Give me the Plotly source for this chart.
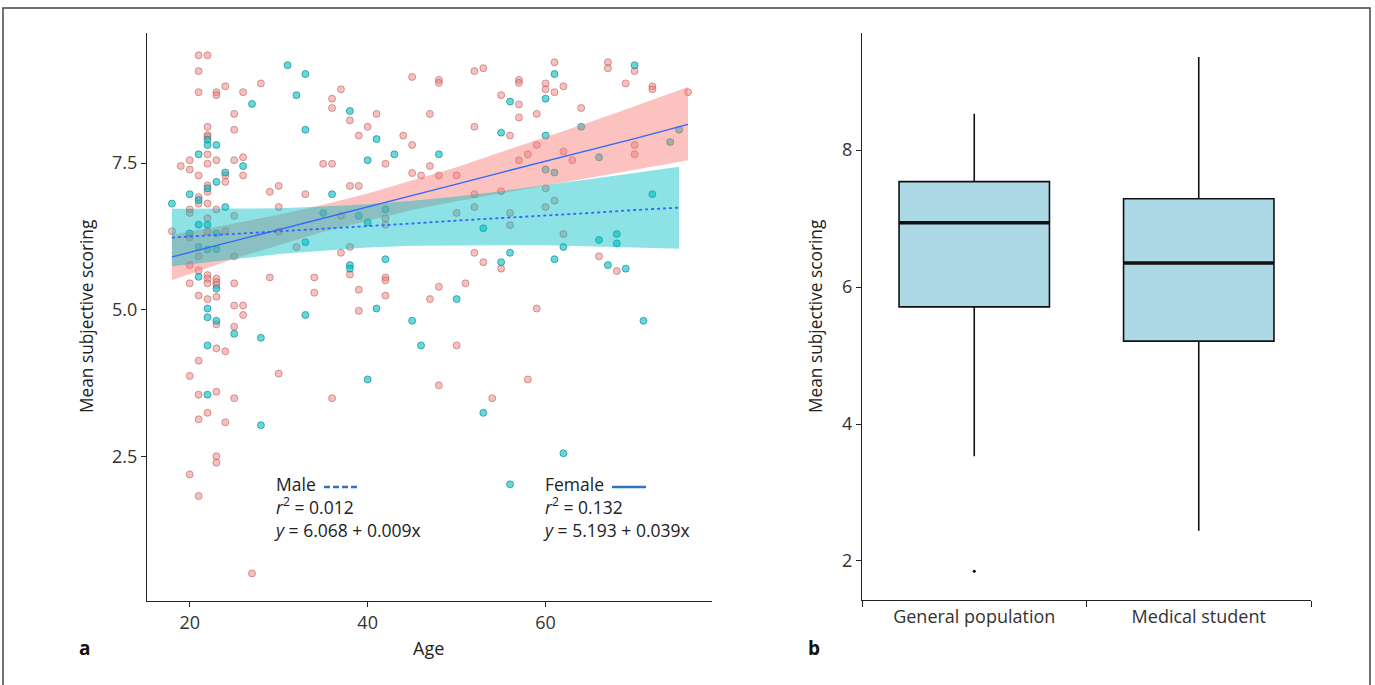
import plotly.graph_objects as go

# ---------------- Data ----------------
female_age = [21, 22, 21, 21, 23, 23, 24, 26, 28, 36, 36, 37, 38, 41, 40, 39, 44, 45, 45, 42, 35, 36,
              22, 22, 22, 25, 25, 22, 20, 20, 19, 21, 22, 23, 25, 26, 26, 24, 24, 22, 22, 21, 21, 22,
              23, 29, 30, 33, 30, 38, 39, 45, 20, 20, 22, 22, 24, 25, 18, 20, 21, 25, 20, 21, 22, 22,
              23, 23, 23, 20, 22, 25, 30, 32, 37, 42, 42, 37, 38, 38, 29, 34, 34, 39, 39, 42, 42, 42,
              21, 22, 23, 25, 26, 26, 23, 25, 23, 24, 21, 20, 30, 21, 23, 25, 36, 21, 22, 24, 23, 23,
              20, 21, 27, 50, 48, 58, 54, 48, 48, 52, 53, 57, 57, 61, 60, 60, 61, 62, 67, 67, 70, 69,
              72, 72, 76, 55, 57, 57, 59, 64, 47, 52, 56, 47, 46, 48, 50, 59, 58, 57, 62, 63, 70, 70,
              60, 60, 61, 55, 52, 52, 50, 56, 56, 62, 52, 53, 55, 66, 68, 51, 48, 47, 59]
female_score = [9.34, 9.34, 9.07, 8.71, 8.71, 8.66, 8.81, 8.71, 8.86, 8.60, 8.44, 8.76, 8.23, 8.34, 8.12,
                7.97, 7.97, 8.97, 7.81, 7.49, 7.49, 7.49, 8.12, 7.98, 7.95, 8.34, 8.07, 7.65, 7.55, 7.39,
                7.45, 7.29, 7.49, 7.55, 7.55, 7.60, 7.29, 7.29, 7.18, 7.12, 7.01, 6.92, 6.81, 6.81, 6.71,
                7.01, 7.11, 6.97, 6.75, 7.11, 7.11, 7.33, 6.71, 6.65, 6.56, 6.33, 6.34, 6.60, 6.34, 6.23,
                5.91, 5.91, 5.76, 5.67, 5.59, 5.53, 5.53, 5.47, 5.42, 5.45, 5.45, 5.45, 6.33, 6.07, 6.60,
                6.56, 6.45, 5.97, 6.07, 5.60, 5.55, 5.55, 5.29, 5.34, 4.98, 5.55, 5.50, 5.24, 5.24, 5.18,
                5.22, 5.07, 5.07, 4.91, 4.75, 4.71, 4.34, 4.29, 4.13, 3.87, 3.91, 3.55, 3.60, 3.49, 3.49,
                3.13, 3.24, 3.08, 2.50, 2.39, 2.19, 1.82, 0.50, 4.39, 3.71, 3.81, 3.49, 8.92, 8.87, 9.07,
                9.12, 8.92, 8.87, 9.22, 8.86, 8.76, 8.71, 8.81, 9.22, 9.12, 9.07, 8.86, 8.81, 8.76, 8.71,
                8.66, 8.50, 8.28, 8.34, 8.44, 8.34, 8.12, 7.97, 7.45, 7.29, 7.29, 7.29, 7.81, 7.65, 7.55,
                7.70, 7.55, 7.81, 7.65, 7.07, 6.75, 6.86, 7.02, 6.97, 6.75, 6.65, 6.65, 6.44, 6.29, 5.97,
                5.81, 5.70, 5.91, 5.66, 5.45, 5.39, 5.18, 5.02]

male_age = [18, 27, 31, 33, 32, 38, 41, 43, 40, 33, 22, 22, 23, 21, 26, 24, 23, 22, 20, 21, 24, 36,
            21, 22, 23, 20, 21, 22, 23, 33, 35, 39, 40, 42, 38, 38, 42, 41, 21, 23, 22, 22, 23, 33,
            45, 25, 28, 46, 22, 40, 22, 28, 53, 62, 56, 61, 60, 70, 56, 55, 60, 48, 64, 66, 74, 75,
            72, 60, 61, 53, 62, 66, 68, 68, 56, 55, 61, 67, 69, 50, 71]
male_score = [6.81, 8.51, 9.17, 9.02, 8.66, 8.39, 7.91, 7.65, 7.55, 8.07, 7.90, 7.81, 7.81, 7.65, 7.45,
              7.34, 7.18, 7.07, 6.97, 6.87, 6.75, 6.97, 6.45, 6.45, 6.30, 6.30, 6.07, 6.03, 6.03, 6.15,
              6.65, 6.60, 6.49, 6.71, 5.76, 5.70, 5.86, 5.02, 5.56, 5.36, 5.02, 4.87, 4.81, 4.91, 4.81,
              4.59, 4.52, 4.39, 4.39, 3.81, 3.55, 3.03, 3.24, 2.55, 2.02, 9.02, 8.60, 9.17, 8.55, 8.02,
              7.97, 7.65, 8.12, 7.60, 7.86, 8.07, 6.97, 7.39, 7.34, 6.39, 6.07, 6.19, 6.29, 6.13, 5.97,
              5.81, 5.86, 5.76, 5.70, 5.18, 4.81]

# fitted lines and 95% confidence ribbons
female_fit_x = [18, 25, 30, 35, 40, 45, 50, 55, 60, 65, 70, 76]
female_fit = [5.90, 6.17, 6.36, 6.56, 6.75, 6.95, 7.14, 7.34, 7.53, 7.73, 7.92, 8.16]
female_lo = [5.50, 5.87, 6.10, 6.33, 6.52, 6.70, 6.85, 6.99, 7.12, 7.25, 7.38, 7.55]
female_hi = [6.28, 6.47, 6.62, 6.79, 6.98, 7.20, 7.43, 7.69, 7.94, 8.20, 8.47, 8.80]

male_fit_x = [18, 25, 30, 35, 40, 45, 50, 55, 60, 65, 70, 75]
male_fit = [6.23, 6.29, 6.34, 6.38, 6.43, 6.47, 6.52, 6.56, 6.61, 6.65, 6.70, 6.74]
male_lo = [5.74, 5.86, 5.95, 6.01, 6.06, 6.09, 6.10, 6.10, 6.10, 6.08, 6.06, 6.04]
male_hi = [6.72, 6.72, 6.73, 6.76, 6.80, 6.86, 6.93, 7.02, 7.12, 7.22, 7.33, 7.44]

legend_labels = ["Male", "Female"]
legend_r2 = ["0.012", "0.132"]
legend_eq = ["6.068 + 0.009x", "5.193 + 0.039x"]

# box plot summary (panel b)
groups = ["General population", "Medical student"]
box_low = [3.53, 2.44]
box_q1 = [5.71, 5.21]
box_median = [6.94, 6.35]
box_q3 = [7.54, 7.29]
box_high = [8.53, 9.36]
outlier_group = ["General population"]
outlier_value = [1.85]

# ---------------- Figure ----------------
W, H = 1375, 685
FONT = "Open Sans"
TXT = "#222222"


def px(x):
    return x / W


def py(y):
    return 1 - y / H


fig = go.Figure()

# points
fig.add_trace(go.Scatter(x=female_age, y=female_score, mode="markers",
                         marker=dict(size=7, color="rgba(240,128,124,0.5)",
                                     line=dict(color="rgba(175,90,90,0.55)", width=1)),
                         showlegend=False, hoverinfo="skip"))
fig.add_trace(go.Scatter(x=male_age, y=male_score, mode="markers",
                         marker=dict(size=7, color="rgba(0,190,196,0.6)",
                                     line=dict(color="rgba(0,125,130,0.6)", width=1)),
                         showlegend=False, hoverinfo="skip"))

# ribbons
fig.add_trace(go.Scatter(x=female_fit_x + female_fit_x[::-1], y=female_hi + female_lo[::-1],
                         fill="toself", fillcolor="rgba(246,120,112,0.45)", mode="lines",
                         line=dict(width=0), showlegend=False, hoverinfo="skip"))
fig.add_trace(go.Scatter(x=male_fit_x + male_fit_x[::-1], y=male_hi + male_lo[::-1],
                         fill="toself", fillcolor="rgba(0,190,196,0.45)", mode="lines",
                         line=dict(width=0), showlegend=False, hoverinfo="skip"))

# fitted lines
fig.add_trace(go.Scatter(x=female_fit_x, y=female_fit, mode="lines",
                         line=dict(color="#3366FF", width=1.3), showlegend=False, hoverinfo="skip"))
fig.add_trace(go.Scatter(x=male_fit_x, y=male_fit, mode="lines",
                         line=dict(color="#3366FF", width=1.8, dash="dot"), showlegend=False,
                         hoverinfo="skip"))

# box plot
fig.add_trace(go.Box(x=groups, q1=box_q1, median=box_median, q3=box_q3,
                     lowerfence=box_low, upperfence=box_high,
                     fillcolor="#ADD8E6", line=dict(color="#111111", width=1.6),
                     width=0.67, whiskerwidth=0, boxpoints=False,
                     xaxis="x2", yaxis="y2", showlegend=False, hoverinfo="skip"))
fig.add_trace(go.Scatter(x=outlier_group, y=outlier_value, mode="markers",
                         marker=dict(size=3, color="black"), xaxis="x2", yaxis="y2",
                         showlegend=False, hoverinfo="skip"))

shapes = []
for i, m in enumerate(box_median):
    shapes.append(dict(type="line", xref="x2", yref="y2", x0=i - 0.335, x1=i + 0.335, y0=m, y1=m,
                       line=dict(color="#111111", width=3.5)))

# outer frame
shapes.append(dict(type="rect", xref="paper", yref="paper", x0=px(3), x1=px(1370), y0=-0.05,
                   y1=py(8), line=dict(color="#444444", width=1.5)))

# legend line samples
shapes.append(dict(type="line", xref="paper", yref="paper", x0=px(324), x1=px(357), y0=py(487),
                   y1=py(487), line=dict(color="#2E75C0", width=2.5, dash="6px,3px")))
shapes.append(dict(type="line", xref="paper", yref="paper", x0=px(612), x1=px(646), y0=py(487),
                   y1=py(487), line=dict(color="#2E75C0", width=2.5)))

LEG = 17.5
annotations = []
leg_x = [272, 541]
for k in range(2):
    txt = (legend_labels[k] + "<br><i>r</i><sup>2</sup> = " + legend_r2[k]
           + "<br><i>y</i> = " + legend_eq[k])
    annotations.append(dict(text=txt, x=px(leg_x[k]), y=py(507), xref="paper", yref="paper",
                            xanchor="left", yanchor="middle", align="left", showarrow=False,
                            font=dict(family=FONT, size=LEG, color=TXT)))

# axis titles and panel labels
annotations += [
    dict(text="Mean subjective scoring", x=px(87), y=py(316), xref="paper", yref="paper",
         xanchor="center", yanchor="middle",
         textangle=-90, showarrow=False, font=dict(family=FONT, size=17.3, color=TXT)),
    dict(text="Mean subjective scoring", x=px(816), y=py(316), xref="paper", yref="paper",
         xanchor="center", yanchor="middle",
         textangle=-90, showarrow=False, font=dict(family=FONT, size=17.3, color=TXT)),
    dict(text="Age", x=px(428), y=py(648), xref="paper", yref="paper", showarrow=False,
         xanchor="center", yanchor="middle", font=dict(family=FONT, size=18, color=TXT)),
    dict(text="<b>a</b>", x=px(84), y=py(648), xref="paper", yref="paper", showarrow=False,
         xanchor="center", yanchor="middle", font=dict(family=FONT, size=19, color="#111111")),
    dict(text="<b>b</b>", x=px(814), y=py(648), xref="paper", yref="paper", showarrow=False,
         xanchor="center", yanchor="middle", font=dict(family=FONT, size=19, color="#111111")),
]

axis_common = dict(showgrid=False, zeroline=False, showline=True, linecolor="#222222",
                   linewidth=1, ticks="outside", ticklen=5, tickcolor="#222222",
                   tickfont=dict(family=FONT, size=18, color="#333333"))

fig.update_layout(
    width=W, height=H,
    margin=dict(l=0, r=0, t=0, b=0),
    paper_bgcolor="white", plot_bgcolor="white",
    showlegend=False,
    xaxis=dict(domain=[px(147), px(712)], range=[15.2, 78.7], tickvals=[20, 40, 60],
               anchor="y", **axis_common),
    yaxis=dict(domain=[py(601), py(33)], range=[0.03, 9.72], tickvals=[2.5, 5.0, 7.5],
               tickformat=".1f", anchor="x", **axis_common),
    xaxis2=dict(domain=[px(862), px(1311)], type="category", range=[-0.5, 1.5],
                tickson="boundaries", anchor="y2", **{**axis_common, "ticklen": 6}),
    yaxis2=dict(domain=[py(600), py(33)], range=[1.43, 9.71], tickvals=[2, 4, 6, 8],
                anchor="x2", **axis_common),
    shapes=shapes,
    annotations=annotations,
)

fig.write_html("out.html", config={"displayModeBar": False},
               post_script="document.body.style.margin='0';document.body.style.overflow='hidden';")
